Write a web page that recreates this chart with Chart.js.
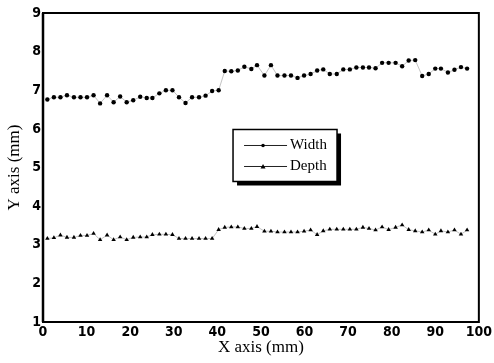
<!DOCTYPE html>
<html>
<head>
<meta charset="utf-8">
<script src="https://cdn.jsdelivr.net/npm/chart.js@4.4.1/dist/chart.umd.min.js"></script>
<style>
  html, body { margin: 0; padding: 0; background: #fff; }
  #wrap { width: 494px; height: 363px; }
</style>
</head>
<body>
<div id="wrap"><canvas id="chart" width="494" height="363"></canvas></div>
<script>
/* Width / Depth along X — line chart with point markers */

const xPositions = [
    1.0, 2.5, 4.0, 5.5, 7.1, 8.6, 10.1, 11.6, 13.1, 14.7,
    16.2, 17.7, 19.2, 20.7, 22.3, 23.8, 25.1, 26.7, 28.2, 29.7,
    31.2, 32.7, 34.2, 35.8, 37.3, 38.8, 40.3, 41.7, 43.2, 44.7,
    46.2, 47.8, 49.1, 50.8, 52.3, 53.8, 55.4, 56.9, 58.4, 59.9,
    61.4, 62.9, 64.3, 65.8, 67.4, 68.9, 70.4, 71.9, 73.4, 74.8,
    76.3, 77.8, 79.3, 80.9, 82.4, 83.9, 85.4, 87.0, 88.5, 90.0,
    91.3, 92.9, 94.4, 95.9, 97.3
];

const widthValues = [
    6.76, 6.82, 6.82, 6.87, 6.82, 6.82, 6.82, 6.87, 6.66, 6.87,
    6.69, 6.84, 6.69, 6.74, 6.83, 6.80, 6.80, 6.92, 7.00, 7.00,
    6.82, 6.67, 6.82, 6.82, 6.86, 6.98, 7.00, 7.50, 7.49, 7.51,
    7.61, 7.55, 7.65, 7.38, 7.65, 7.38, 7.38, 7.38, 7.32, 7.38,
    7.42, 7.51, 7.54, 7.42, 7.42, 7.54, 7.54, 7.59, 7.59, 7.59,
    7.57, 7.71, 7.71, 7.71, 7.62, 7.77, 7.78, 7.37, 7.42, 7.56,
    7.56, 7.46, 7.53, 7.60, 7.56
];

const depthValues = [
    3.16, 3.18, 3.25, 3.19, 3.19, 3.24, 3.24, 3.29, 3.13, 3.25,
    3.13, 3.20, 3.13, 3.19, 3.20, 3.20, 3.26, 3.27, 3.27, 3.26,
    3.16, 3.16, 3.16, 3.16, 3.16, 3.16, 3.39, 3.45, 3.46, 3.46,
    3.42, 3.42, 3.47, 3.35, 3.35, 3.33, 3.33, 3.33, 3.33, 3.35,
    3.38, 3.26, 3.36, 3.40, 3.40, 3.40, 3.40, 3.40, 3.45, 3.42,
    3.38, 3.46, 3.39, 3.45, 3.51, 3.39, 3.36, 3.33, 3.38, 3.27,
    3.36, 3.33, 3.38, 3.27, 3.38
];

const seriesLabels = ['Width', 'Depth'];
const xTitle = 'X axis (mm)';
const yTitle = 'Y axis (mm)';

const toPoints = vals => vals.map((v, i) => ({ x: xPositions[i], y: v }));

const tickFont = { family: "'Liberation Sans Narrow', 'DejaVu Sans Condensed', 'Liberation Sans', Arial, sans-serif", size: 14, weight: 'bold' };
const titleFont = { family: "'Liberation Serif', 'Times New Roman', serif", size: 17 };

// box round the plot area
const framePlugin = {
    id: 'frame',
    afterDraw(chart) {
        const { ctx, chartArea: a } = chart;
        ctx.save();
        ctx.strokeStyle = '#000';
        ctx.lineWidth = 2;
        ctx.strokeRect(a.left, a.top, a.right - a.left, a.bottom - a.top);
        ctx.beginPath();
        ctx.lineWidth = 2.5;
        ctx.moveTo(a.left, a.top);
        ctx.lineTo(a.left, a.bottom);
        ctx.stroke();
        ctx.restore();
    }
};

// legend box inside the plot, with drop shadow
const boxLegend = {
    id: 'boxLegend',
    afterDraw(chart) {
        const { ctx, chartArea: a } = chart;
        const w = a.right - a.left, h = a.bottom - a.top;
        const left = a.left + w * 0.436;
        const top = a.top + h * 0.377;
        const bw = 104, bh = 52;
        ctx.save();
        ctx.fillStyle = '#000';
        ctx.fillRect(left + 4, top + 4, bw, bh);
        ctx.fillStyle = '#fff';
        ctx.fillRect(left, top, bw, bh);
        ctx.strokeStyle = '#000';
        ctx.lineWidth = 1.5;
        ctx.strokeRect(left, top, bw, bh);

        ctx.font = "15px 'Liberation Serif', 'Times New Roman', serif";
        ctx.textBaseline = 'middle';
        chart.data.datasets.forEach((ds, i) => {
            const y = top + 16 + i * 21;
            ctx.strokeStyle = '#222';
            ctx.lineWidth = 1;
            ctx.beginPath();
            ctx.moveTo(left + 11, y);
            ctx.lineTo(left + 54, y);
            ctx.stroke();
            ctx.fillStyle = '#000';
            const mx = left + 30;
            ctx.beginPath();
            if (ds.pointStyle === 'triangle') {
                ctx.moveTo(mx, y - 2.5);
                ctx.lineTo(mx + 2.5, y + 2);
                ctx.lineTo(mx - 2.5, y + 2);
                ctx.closePath();
            } else {
                ctx.arc(mx, y, 1.8, 0, Math.PI * 2);
            }
            ctx.fill();
            ctx.fillText(ds.label, left + 57, y);
        });
        ctx.restore();
    }
};

const ctx = document.getElementById('chart');
new Chart(ctx.getContext('2d'), {
    type: 'scatter',
    data: {
        datasets: [
            {
                label: seriesLabels[0],
                data: toPoints(widthValues),
                showLine: true,
                borderColor: '#9a9a9a',
                borderWidth: 0.6,
                pointStyle: 'circle',
                pointRadius: 2.2,
                pointBackgroundColor: '#000',
                pointBorderWidth: 0,
            },
            {
                label: seriesLabels[1],
                data: toPoints(depthValues),
                showLine: true,
                borderColor: '#9a9a9a',
                borderWidth: 0.6,
                pointStyle: 'triangle',
                pointRadius: 2.6,
                pointBackgroundColor: '#000',
                pointBorderWidth: 0,
            },
        ]
    },
    options: {
        responsive: false,
        animation: false,
        devicePixelRatio: 1,
        layout: { padding: { left: 0, right: 12, top: 13, bottom: 0 } },
        scales: {
            x: {
                type: 'linear',
                min: 0, max: 100,
                grid: { display: false, drawTicks: false },
                border: { display: false },
                ticks: { stepSize: 10, padding: 2, color: '#000', font: tickFont, maxRotation: 0 },
                title: { display: true, text: xTitle, color: '#000', font: titleFont, padding: { top: 0, bottom: 5 } },
                afterFit: s => { s.height = 41; }
            },
            y: {
                min: 1, max: 9,
                grid: { display: false, drawTicks: false },
                border: { display: false },
                ticks: { stepSize: 1, padding: 2, color: '#000', font: tickFont },
                title: { display: true, text: yTitle, color: '#000', font: titleFont, padding: { top: 4, bottom: 0 } },
                afterFit: s => { s.width = 43; }
            }
        },
        plugins: {
            legend: { display: false },
            tooltip: { enabled: false }
        }
    },
    plugins: [framePlugin, boxLegend]
});
</script>
</body>
</html>
